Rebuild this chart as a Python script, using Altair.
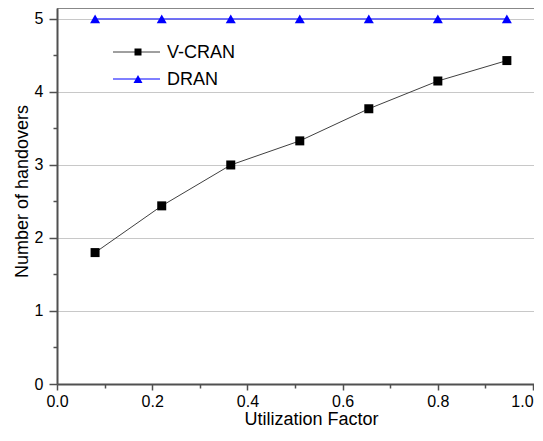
import altair as alt
import pandas as pd

# ---- data ----
util_factor = [0.08, 0.22, 0.365, 0.51, 0.655, 0.80, 0.945]
vcran_handovers = [1.80, 2.44, 3.00, 3.33, 3.77, 4.15, 4.43]
dran_handovers = [5, 5, 5, 5, 5, 5, 5]
legend_labels = ["V-CRAN", "DRAN"]
x_ticks = [0.0, 0.2, 0.4, 0.6, 0.8, 1.0]
x_minor = [0.1, 0.3, 0.5, 0.7, 0.9]
y_ticks = [0, 1, 2, 3, 4, 5]
y_minor = [0.5, 1.5, 2.5, 3.5, 4.5]

df_v = pd.DataFrame({"x": util_factor, "y": vcran_handovers})
df_d = pd.DataFrame({"x": util_factor, "y": dran_handovers})

FONT = "Liberation Sans"
AXIS_COL = "#505050"

xscale = alt.Scale(domain=[0, 1.002], nice=False, zero=False)
yscale = alt.Scale(domain=[0, 5.15], nice=False, zero=False)

x_axis = alt.Axis(values=x_ticks, format=".1f", grid=False, tickSize=6, labelPadding=3,
                  labelFontSize=16, labelFlush=False, labelColor="black",
                  labelAlign=alt.expr("datum.value >= 1 ? 'right' : 'center'"),
                  title="Utilization Factor", titleFontSize=18, titleFontWeight="normal",
                  titleColor="black", titleX=254, titleY=40, titleBaseline="alphabetic",
                  titleAlign="center", domainColor=AXIS_COL, domainWidth=2,
                  tickColor=AXIS_COL, tickWidth=1.5, orient="bottom")
y_axis = alt.Axis(values=y_ticks, format="d", grid=True, gridColor="#c8c8c8", gridWidth=1,
                  tickSize=8, labelPadding=6, labelFontSize=16, labelFlush=False,
                  labelColor="black", title="Number of handovers", titleFontSize=18,
                  titleFontWeight="normal", titleColor="black", titleAngle=270,
                  titleX=-30, titleY=183, titleBaseline="alphabetic", titleAlign="center",
                  domainColor=AXIS_COL, domainWidth=2, tickColor=AXIS_COL, tickWidth=1.5,
                  orient="left")

X = alt.X("x:Q", scale=xscale, axis=x_axis)
Y = alt.Y("y:Q", scale=yscale, axis=y_axis)

v_line = alt.Chart(df_v).mark_line(color="#404040", strokeWidth=1).encode(x=X, y=Y)
v_pts = alt.Chart(df_v).mark_point(shape="square", filled=True, size=81, color="black",
                                   opacity=1).encode(x="x:Q", y="y:Q")
d_line = alt.Chart(df_d).mark_line(color="#0000ff", strokeWidth=1).encode(x="x:Q", y="y:Q")
d_pts = alt.Chart(df_d).mark_point(shape="triangle-up", filled=True, size=100,
                                   color="#0000ff", opacity=1).encode(x="x:Q", y="y:Q")

minor = alt.Chart(df_v).mark_point(opacity=0).encode(
    x=alt.X("x:Q", scale=xscale, axis=alt.Axis(values=x_minor, labels=False, tickSize=4,
                                               domain=False, grid=False, title="",
                                               tickColor=AXIS_COL, tickWidth=1.5,
                                               orient="bottom")),
    y=alt.Y("y:Q", scale=yscale, axis=alt.Axis(values=y_minor, labels=False, tickSize=4,
                                               domain=False, grid=False, title="",
                                               tickColor=AXIS_COL, tickWidth=1.5,
                                               orient="left")),
)

# ---- legend (inside, top-left) ----
leg_layers = []
leg_style = [("#404040", "black", "square", 49, 44), ("#0000ff", "#0000ff", "triangle-up", 81, 71)]
for label, (lcol, mcol, shape, msize, ly) in zip(legend_labels, leg_style):
    ldf = pd.DataFrame({"label": [label]})
    leg_layers.append(alt.Chart(ldf).mark_rule(color=lcol, strokeWidth=1).encode(
        x=alt.value(56), x2=alt.value(103), y=alt.value(ly)))
    leg_layers.append(alt.Chart(ldf).mark_point(shape=shape, filled=True, size=msize,
                                                color=mcol, opacity=1).encode(
        x=alt.value(81), y=alt.value(ly)))
    leg_layers.append(alt.Chart(ldf).mark_text(align="left", baseline="middle", fontSize=18,
                                               font=FONT, color="black").encode(
        x=alt.value(110), y=alt.value(ly + 1), text="label:N"))

chart = alt.layer(v_line, d_line, v_pts, d_pts, minor, *leg_layers).resolve_axis(
    x="independent", y="independent"
).properties(
    width=477, height=376,
    autosize=alt.AutoSizeParams(type="none"),
    padding={"left": 49, "top": 0, "right": 0, "bottom": 44},
).configure_view(strokeWidth=0).configure_axis(labelFont=FONT, titleFont=FONT)

chart.save("out.html", embed_options={"renderer": "svg", "actions": False})
